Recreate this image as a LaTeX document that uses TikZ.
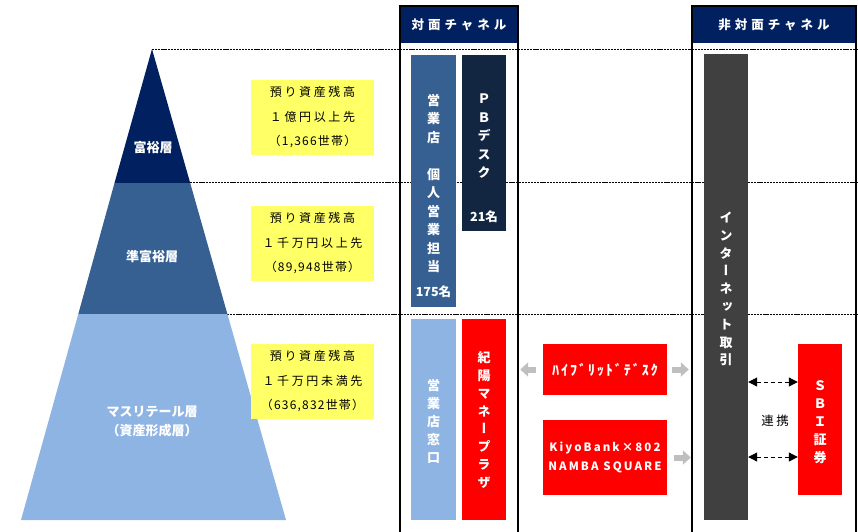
\documentclass[tikz,border=0pt]{standalone}
\usepackage{fontspec}
\newfontfamily\jp{Noto Sans CJK JP}
\newfontfamily\jpsp{Noto Sans CJK JP}[LetterSpace=22]
\newfontfamily\jpsm{Noto Sans CJK JP}[LetterSpace=10]
\newfontfamily\jphd{Noto Sans CJK JP}[LetterSpace=32]
\newfontfamily\jpkb{Noto Sans CJK JP}[LetterSpace=18]
\newfontfamily\jphy{Noto Sans CJK JP}[LetterSpace=14]
\newfontfamily\jplk{Noto Sans CJK JP}[LetterSpace=20]
\newfontfamily\jpv{Noto Sans CJK JP}[RawFeature=+vert]
\usetikzlibrary{arrows.meta}
\definecolor{navy}{HTML}{002060}
\definecolor{midblue}{HTML}{376092}
\definecolor{lightblue}{HTML}{8EB4E3}
\definecolor{pbdark}{HTML}{132641}
\definecolor{netgray}{HTML}{404040}
\definecolor{yel}{HTML}{FFFF66}
\definecolor{arrgray}{HTML}{BFBFBF}
\definecolor{red}{HTML}{FF0000}
\begin{document}
\begin{tikzpicture}[x=1pt,y=-1pt,
  dline/.style={draw=black, line width=1pt, dash pattern=on 2.2pt off 0.9pt},
  colframe/.style={draw=black, line width=1.8pt, inner sep=0pt},
  head/.style={fill=navy, inner sep=0pt, text=white, font=\jphd\bfseries\fontsize{12.5}{14}\selectfont},
  ybox/.style={fill=yel, inner sep=0pt, minimum width=123pt, minimum height=75pt, align=center, font=\jp\fontsize{12}{24.5}\selectfont},
  cbox/.style={inner sep=0pt, draw=none},
  vtext/.style={text=white, align=center, inner sep=0pt, font=\jpv\bfseries\fontsize{13}{18.5}\selectfont},
  wtext/.style={text=white, inner sep=0pt, align=center, font=\jp\bfseries\fontsize{13}{19}\selectfont},
  garrow/.style={draw=arrgray, line width=6pt, -{Triangle[length=8pt,width=14pt]}},
  linkarrow/.style={draw=black, line width=1pt, dash pattern=on 4pt off 3pt, {Triangle[length=9pt,width=9pt]}-{Triangle[length=9pt,width=9pt]}}
]
\useasboundingbox (0,0) rectangle (858,531);

% dashed level lines
\coordinate (apex) at (152,49);
\coordinate (r1) at (858,49);
\coordinate (s2) at (190,182);
\coordinate (r2) at (858,182);
\coordinate (s3) at (227,314);
\coordinate (r3) at (858,314);
\draw[dline] (apex) -- (r1);
\draw[dline] (s2) -- (r2);
\draw[dline] (s3) -- (r3);

% pyramid
\fill[navy] (apex) -- (190.2,183) -- (114.5,183) -- cycle;
\fill[midblue] (114.5,183) -- (190.2,183) -- (227.4,314) -- (78.3,314) -- cycle;
\fill[lightblue] (78.3,314) -- (227.4,314) -- (286,520) -- (21,520) -- cycle;
\node[wtext] (lyr1) at (153,148) {富裕層};
\node[wtext] (lyr2) at (152,257) {準富裕層};
\node[wtext] (lyr3) at (152,421.5) {マスリテール層\\（資産形成層）};

% yellow boxes
\node[ybox] (y1) at (312.5,117.5) {{\jpsp 預り資産残高}\\{\jpsp １億円以上先}\\{\jpsm （1,366世帯）}};
\node[ybox] (y2) at (312.5,243.5) {{\jpsp 預り資産残高}\\{\jpsp １千万円以上先}\\{\jpsm （89,948世帯）}};
\node[ybox] (y3) at (312.5,381.5) {{\jpsp 預り資産残高}\\{\jpsp １千万円未満先}\\{\jpsm （636,832世帯）}};

% column headers and frames
\node[head, minimum width=118pt, minimum height=37pt] (fhead) at (459,24.5) {対面チャネル};
\node[head, minimum width=164pt, minimum height=37pt] (nfhead) at (774,24.5) {非対面チャネル};
\node[colframe, minimum width=118pt, minimum height=529pt] (fcol) at (459,270.5) {};
\node[colframe, minimum width=164pt, minimum height=529pt] (nfcol) at (774,270.5) {};

% face-to-face boxes
\node[cbox, fill=midblue, minimum width=45pt, minimum height=252pt] (eig) at (433.5,181) {};
\node[cbox, fill=pbdark, minimum width=44pt, minimum height=176pt] (pb) at (484,143) {};
\node[cbox, fill=lightblue, minimum width=45pt, minimum height=201pt] (mado) at (433.5,419.5) {};
\node[cbox, fill=red, minimum width=44pt, minimum height=201pt] (kiyo) at (484,419.5) {};

\node[vtext] (teig) at (433.5,183.3) {営\\業\\店\\[18.5pt]個\\人\\営\\業\\担\\当};
\node[wtext, font=\jp\bfseries\fontsize{12.5}{15}\selectfont] (n175) at (433.5,292) {175名};
\node[vtext] (tpb) at (484,136.5) {Ｐ\\Ｂ\\デ\\ス\\ク};
\node[wtext, font=\jp\bfseries\fontsize{12.5}{15}\selectfont] (n21) at (484,217) {21名};
\node[vtext, font=\jpv\bfseries\fontsize{13}{18}\selectfont] (tmado) at (433.5,421) {営\\業\\店\\窓\\口};
\node[vtext, font=\jpv\bfseries\fontsize{13}{17.8}\selectfont] (tkiyo) at (484,420) {紀\\陽\\マ\\ネ\\ー\\プ\\ラ\\ザ};

% middle boxes
\node[cbox, fill=red, minimum width=124pt, minimum height=51pt, text=white, font=\jphy\bfseries\fontsize{14}{16}\selectfont] (hyb) at (605,369.5) {ﾊｲﾌﾞﾘｯﾄﾞﾃﾞｽｸ};
\node[cbox, fill=red, minimum width=124pt, minimum height=75pt, text=white, align=center, font=\jpkb\bfseries\fontsize{11.5}{19}\selectfont] (kb) at (605,457.5) {KiyoBank×802\\NAMBA SQUARE};

% non face-to-face
\node[cbox, fill=netgray, minimum width=44pt, minimum height=466pt] (net) at (726,287) {};
\node[vtext, font=\jpv\bfseries\fontsize{13}{17.8}\selectfont] (tnet) at (726,289) {イ\\ン\\タ\\ー\\ネ\\ッ\\ト\\取\\引};
\node[cbox, fill=red, minimum width=44pt, minimum height=151pt] (sbi) at (820,419.5) {};
\node[vtext, font=\jpv\bfseries\fontsize{13}{18}\selectfont] (tsbi) at (820,422) {Ｓ\\Ｂ\\Ｉ\\証\\券};

% gray arrows
\draw[garrow, shorten <=7pt, shorten >=14pt] (hyb.west) -- (hyb.west -| kiyo.east);
\draw[garrow, shorten <=5pt, shorten >=15pt] (hyb.east) -- (hyb.east -| net.west);
\draw[garrow, shorten <=7pt, shorten >=13pt] (kb.east) -- (kb.east -| net.west);

% link arrows
\coordinate (l1) at (0,382);
\coordinate (l2) at (0,457);
\draw[linkarrow] (net.east |- l1) -- (sbi.west |- l1);
\draw[linkarrow] (net.east |- l2) -- (sbi.west |- l2);
\node[inner sep=0pt, font=\jplk\fontsize{12.5}{14}\selectfont] (link) at (775,421) {連携};
\end{tikzpicture}
\end{document}
